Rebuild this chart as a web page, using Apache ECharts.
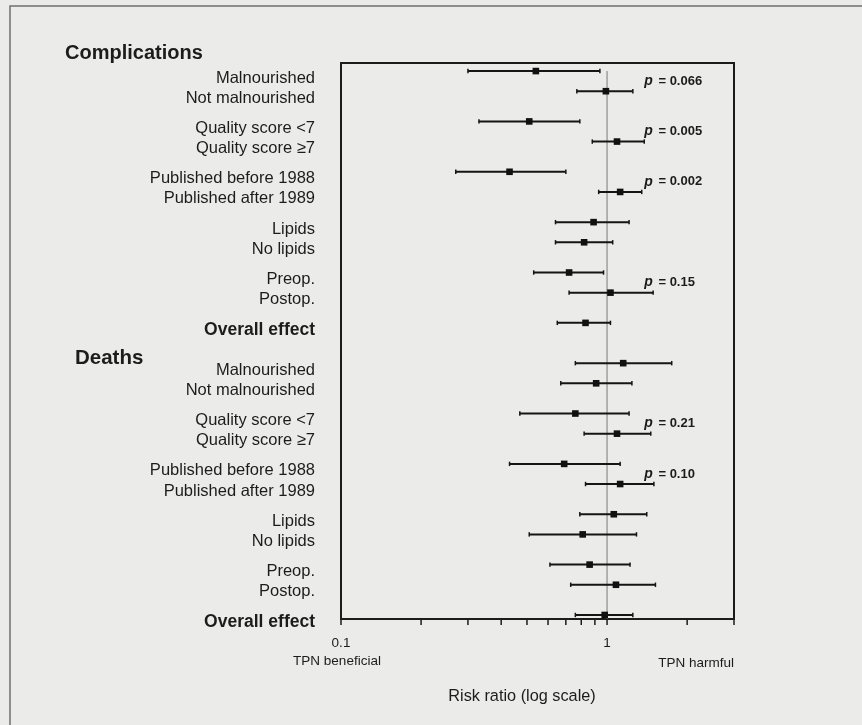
<!DOCTYPE html>
<html>
<head>
<meta charset="utf-8">
<script src="https://cdn.jsdelivr.net/npm/echarts@6/dist/echarts.min.js"></script>
<style>
html,body{margin:0;padding:0;background:#ebebe9;}
#chart{width:862px;height:725px;}
</style>
</head>
<body>
<div id="chart"></div>
<script>
// ---- data ----
var sectionTitles = ['Complications', 'Deaths'];
var rowLabels = ['Malnourished', 'Not malnourished', 'Quality score <7', 'Quality score \u22657',
  'Published before 1988', 'Published after 1989', 'Lipids', 'No lipids', 'Preop.', 'Postop.', 'Overall effect'];

var compEst = [0.54, 0.99, 0.51, 1.09, 0.43, 1.12, 0.89, 0.82, 0.72, 1.03, 0.83];
var compLo  = [0.30, 0.77, 0.33, 0.88, 0.27, 0.93, 0.64, 0.64, 0.53, 0.72, 0.65];
var compHi  = [0.94, 1.25, 0.79, 1.38, 0.70, 1.35, 1.21, 1.05, 0.97, 1.49, 1.03];

var deathEst = [1.15, 0.91, 0.76, 1.09, 0.69, 1.12, 1.06, 0.81, 0.86, 1.08, 0.98];
var deathLo  = [0.76, 0.67, 0.47, 0.82, 0.43, 0.83, 0.79, 0.51, 0.61, 0.73, 0.76];
var deathHi  = [1.75, 1.24, 1.21, 1.46, 1.12, 1.50, 1.41, 1.29, 1.22, 1.52, 1.25];

// p values per pair of rows (null = none shown)
var compP  = ['0.066', '0.005', '0.002', null, '0.15'];
var deathP = [null, '0.21', '0.10', null, null];

var xTickValues = [0.1, 0.2, 0.3, 0.4, 0.5, 0.6, 0.7, 0.8, 0.9, 1, 2, 3];
var xLabelValues = [0.1, 1];
var referenceValue = [1];

// ---- layout helpers (row slots) ----
var FONT = '"Liberation Sans", Arial, Helvetica, sans-serif';
var Y_MIN = -0.8, Y_MAX = 54.4;
var P_LABEL_X = 1.38;
function rowSlot(section, idx) {
  var off = section * 29;
  if (idx === 10) return off + 25;
  var pair = Math.floor(idx / 2);
  return off + pair * 5 + (idx % 2) * 2;
}

var forestData = [];
var labelMap = {};
var allRows = [];
[[compLo, compEst, compHi], [deathLo, deathEst, deathHi]].forEach(function (arr, s) {
  for (var i = 0; i < rowLabels.length; i++) {
    var y = rowSlot(s, i);
    forestData.push([arr[0][i], arr[1][i], arr[2][i], y]);
    labelMap[y] = rowLabels[i];
    allRows.push(y);
  }
});

var pData = [];
[compP, deathP].forEach(function (arr, s) {
  arr.forEach(function (p, i) {
    if (p) pData.push([P_LABEL_X, (rowSlot(s, i * 2) + rowSlot(s, i * 2 + 1)) / 2, p]);
  });
});

var chart = echarts.init(document.getElementById('chart'));
chart.setOption({
  backgroundColor: '#ebebe9',
  animation: false,
  grid: {
    left: 341, right: 128, top: 63, bottom: 106,
    show: true, borderColor: '#1c1c1c', borderWidth: 2, backgroundColor: 'transparent'
  },
  xAxis: {
    type: 'log', logBase: 10, min: 0.1, max: 3,
    name: 'Risk ratio (log scale)', nameLocation: 'middle', nameGap: 70,
    nameTextStyle: { fontFamily: FONT, fontSize: 16.3, color: '#1c1c1c', padding: [0, 31, 0, 0] },
    axisLine: { show: true, onZero: false, lineStyle: { color: '#1c1c1c', width: 2 } },
    axisTick: { show: false },
    splitLine: { show: false },
    axisLabel: {
      margin: 17, fontFamily: FONT, fontSize: 13.5, color: '#1c1c1c', showMaxLabel: false,
      formatter: function (v) {
        for (var i = 0; i < xLabelValues.length; i++) {
          if (Math.abs(v - xLabelValues[i]) < 1e-9) return String(xLabelValues[i]);
        }
        return '';
      }
    }
  },
  yAxis: {
    type: 'value', inverse: true, min: Y_MIN, max: Y_MAX,
    axisLine: { show: false, onZero: false }, axisTick: { show: false }, splitLine: { show: false },
    axisLabel: {
      customValues: allRows,
      margin: 26, padding: [14, 0, 0, 0],
      fontFamily: FONT, fontSize: 16.5, color: '#1c1c1c',
      formatter: function (v) {
        var t = labelMap[v];
        if (!t) return '';
        return t === 'Overall effect' ? '{b|' + t + '}' : t;
      },
      rich: { b: { fontFamily: FONT, fontSize: 17.5, fontWeight: 'bold', color: '#1c1c1c' } }
    }
  },
  graphic: [
    { type: 'rect', shape: { x: 10, y: 6, width: 900, height: 800 }, style: { fill: 'none', stroke: '#707070', lineWidth: 1.5 }, silent: true },
    { type: 'text', x: 65, y: 53, style: { text: sectionTitles[0], font: 'bold 20px ' + FONT, fill: '#1c1c1c', verticalAlign: 'middle', align: 'left' } },
    { type: 'text', x: 75, y: 358, style: { text: sectionTitles[1], font: 'bold 20.5px ' + FONT, fill: '#1c1c1c', verticalAlign: 'middle', align: 'left' } },
    { type: 'text', x: 337, y: 661, style: { text: 'TPN beneficial', font: '13.5px ' + FONT, fill: '#1c1c1c', verticalAlign: 'middle', align: 'center' } },
    { type: 'text', x: 734, y: 663, style: { text: 'TPN harmful', font: '13.5px ' + FONT, fill: '#1c1c1c', verticalAlign: 'middle', align: 'right' } }
  ],
  series: [
    {
      type: 'custom',
      name: 'reference',
      data: referenceValue.map(function (v) { return [v, allRows[0]]; }),
      encode: { x: 0, y: 1 },
      renderItem: function (params, api) {
        var p = api.coord([api.value(0), api.value(1)]);
        var bottom = params.coordSys.y + params.coordSys.height;
        return { type: 'line', shape: { x1: p[0], y1: p[1], x2: p[0], y2: bottom }, style: { stroke: '#7a7a7a', lineWidth: 1 } };
      },
      z: 2
    },
    {
      type: 'custom',
      name: 'forest',
      data: forestData,
      encode: { x: [0, 1, 2], y: 3 },
      renderItem: function (params, api) {
        var y = api.value(3);
        var pL = api.coord([api.value(0), y]);
        var pE = api.coord([api.value(1), y]);
        var pH = api.coord([api.value(2), y]);
        var cap = 2.2;
        return {
          type: 'group',
          children: [
            { type: 'line', shape: { x1: pL[0], y1: pL[1], x2: pH[0], y2: pH[1] }, style: { stroke: '#151515', lineWidth: 2 } },
            { type: 'line', shape: { x1: pL[0], y1: pL[1] - cap, x2: pL[0], y2: pL[1] + cap }, style: { stroke: '#151515', lineWidth: 1.5 } },
            { type: 'line', shape: { x1: pH[0], y1: pH[1] - cap, x2: pH[0], y2: pH[1] + cap }, style: { stroke: '#151515', lineWidth: 1.5 } },
            { type: 'rect', shape: { x: pE[0] - 3.3, y: pE[1] - 3.3, width: 6.6, height: 6.6 }, style: { fill: '#111' } }
          ]
        };
      },
      z: 3
    },
    {
      type: 'custom',
      name: 'ticks',
      data: xTickValues.map(function (v) { return [v, Y_MAX]; }),
      encode: { x: 0, y: 1 },
      renderItem: function (params, api) {
        var p = api.coord([api.value(0), api.value(1)]);
        return { type: 'line', shape: { x1: p[0], y1: p[1], x2: p[0], y2: p[1] + 6 }, style: { stroke: '#1c1c1c', lineWidth: 1.5 } };
      },
      z: 4
    },
    {
      type: 'custom',
      name: 'pvalues',
      data: pData,
      encode: { x: 0, y: 1 },
      renderItem: function (params, api) {
        var p = api.coord([api.value(0), api.value(1)]);
        var txt = pData[params.dataIndex][2];
        return {
          type: 'text', x: p[0], y: p[1],
          style: {
            text: '{i|p} = ' + txt,
            font: 'bold 13px ' + FONT, fill: '#1c1c1c',
            verticalAlign: 'middle', align: 'left',
            rich: { i: { fontStyle: 'italic', fontWeight: 'bold', fontSize: 14, fontFamily: FONT, fill: '#1c1c1c', padding: [0, 2, 0, 0] } }
          }
        };
      },
      z: 5
    }
  ]
});
</script>
</body>
</html>
